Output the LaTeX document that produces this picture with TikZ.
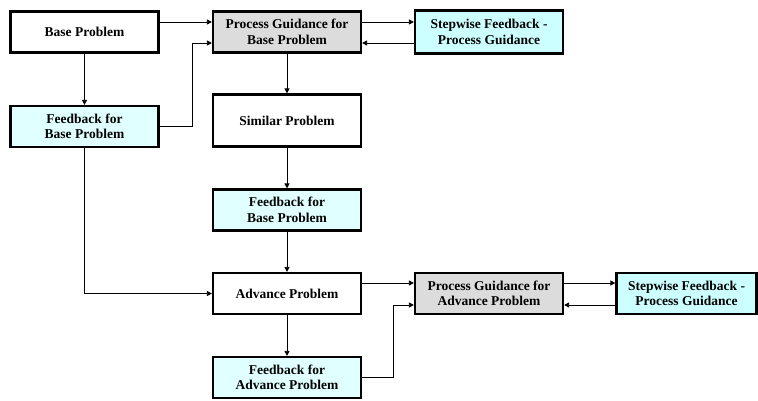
\documentclass[tikz,border=0pt]{standalone}
\usepackage{fontspec}
\setmainfont{Liberation Serif}
\usetikzlibrary{arrows.meta,calc}
\definecolor{fbcyan}{RGB}{224,255,255}
\definecolor{stepcyan}{RGB}{204,255,255}
\definecolor{pggray}{RGB}{220,220,220}

\begin{document}
\begin{tikzpicture}[yscale=-1, x=1pt, y=1pt,
  box/.style={draw, line width=2.2pt, align=center, inner sep=0pt,
    minimum width=148pt, minimum height=41pt,
    font=\fontsize{13.5}{15.5}\selectfont\bfseries},
  fbbox/.style={box, fill=fbcyan},
  pgbox/.style={box, fill=pggray},
  stepbox/.style={box, fill=stepcyan},
  arr/.style={line width=0.8pt, -{Triangle[length=5pt,width=5pt]}}]
  \useasboundingbox (0,0) rectangle (758,400);

  % left column and top row
  \node[box] (base) at (84.5,32) {Base Problem};
  \node[fbbox] (fbbase) at (84.5,126.5) {Feedback for\\Base Problem};
  \node[pgbox] (pgbase) at (287,32) {Process Guidance for\\Base Problem};
  \node[stepbox, minimum height=43pt] (stepbase) at (489,32)
    {Stepwise Feedback -\\Process Guidance};

  % middle column
  \node[box, minimum height=52pt] (similar) at (287,120.5) {Similar Problem};
  \node[fbbox] (fbmid) at (287,210) {Feedback for\\Base Problem};
  \node[box] (advance) at (287,293.5) {Advance Problem};
  \node[fbbox] (fbadv) at (287,377.5) {Feedback for\\Advance Problem};
  \node[pgbox] (pgadv) at (489,293.5) {Process Guidance for\\Advance Problem};
  \node[stepbox, minimum width=140pt] (stepadv) at (686.5,293.5)
    {Stepwise Feedback -\\Process Guidance};

  \draw[arr] ($(base.east)+(0,-10)$) -- ($(pgbase.west)+(0,-10)$);
  \draw[arr] (base) -- (fbbase);
  \draw[arr] (fbbase.east) -- ++(33,0) |- ($(pgbase.west)+(0,11)$);
  \draw[arr] ($(pgbase.east)+(0,-10)$) -- ($(stepbase.west)+(0,-10)$);
  \draw[arr] ($(stepbase.west)+(0,11)$) -- ($(pgbase.east)+(0,11)$);
  \draw[arr] (pgbase) -- (similar);
  \draw[arr] (similar) -- (fbmid);
  \draw[arr] (fbmid) -- (advance);
  \draw[arr] (fbbase.south) |- (advance.west);
  \draw[arr] (advance) -- (fbadv);
  \draw[arr] ($(advance.east)+(0,-10.5)$) -- ($(pgadv.west)+(0,-10.5)$);
  \draw[arr] (fbadv.east) -- ++(31,0) |- ($(pgadv.west)+(0,11.5)$);
  \draw[arr] ($(pgadv.east)+(0,-10.5)$) -- ($(stepadv.west)+(0,-10.5)$);
  \draw[arr] ($(stepadv.west)+(0,11.5)$) -- ($(pgadv.east)+(0,11.5)$);
\end{tikzpicture}
\end{document}
